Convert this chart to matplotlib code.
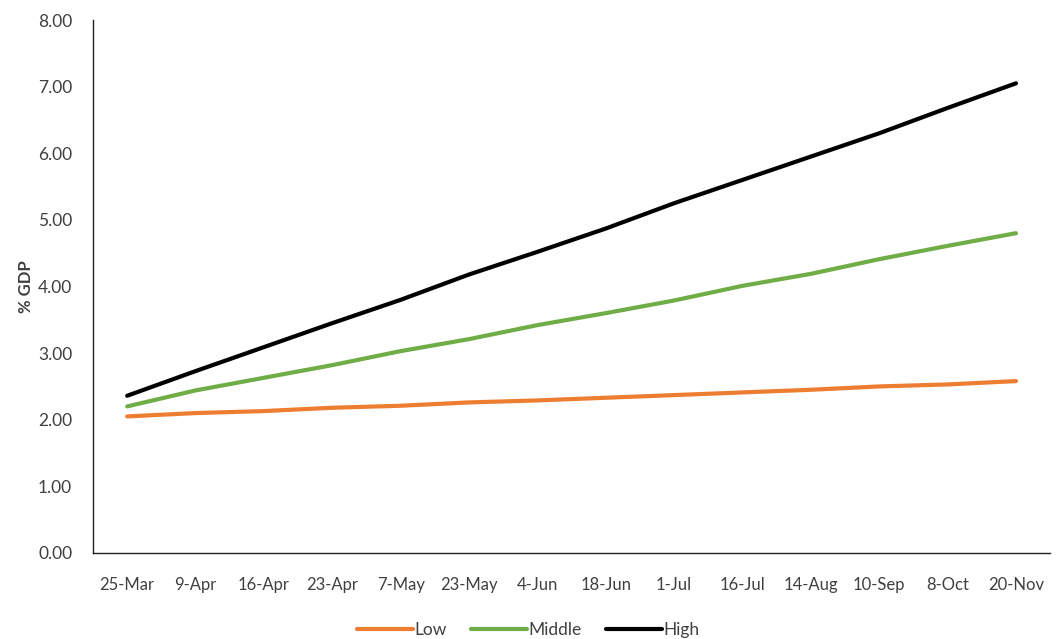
import numpy as np
import matplotlib.pyplot as plt

plt.rcParams['font.family'] = ['Lato', 'DejaVu Sans']

dates = ['25-Mar', '9-Apr', '16-Apr', '23-Apr', '7-May', '23-May', '4-Jun',
         '18-Jun', '1-Jul', '16-Jul', '14-Aug', '10-Sep', '8-Oct', '20-Nov']
low = [2.05, 2.10, 2.13, 2.18, 2.21, 2.26, 2.29, 2.33, 2.37, 2.41, 2.45, 2.50, 2.53, 2.58]
middle = [2.20, 2.44, 2.63, 2.82, 3.03, 3.21, 3.42, 3.60, 3.79, 4.01, 4.19, 4.41, 4.61, 4.80]
high = [2.36, 2.73, 3.09, 3.45, 3.80, 4.18, 4.52, 4.87, 5.25, 5.60, 5.95, 6.30, 6.68, 7.05]

fig = plt.figure(figsize=(10.64, 6.39), dpi=100)
ax = fig.add_axes([0.0874, 0.1346, 0.8996, 0.8341])

x = np.arange(len(dates))
ax.plot(x, low, color='#ED7D31', lw=3, label='Low', solid_capstyle='round')
ax.plot(x, middle, color='#70AD47', lw=3, label='Middle', solid_capstyle='round')
ax.plot(x, high, color='#000000', lw=3, label='High', solid_capstyle='round')

ax.set_xlim(-0.5, len(dates) - 0.5)
ax.set_ylim(0, 8)
ax.set_yticks(np.arange(0, 9, 1))
ax.set_yticklabels(['%.2f' % v for v in np.arange(0, 9, 1)])
ax.set_xticks(x)
ax.set_xticklabels(dates)
ax.tick_params(axis='y', length=0, labelsize=12.5, colors='#404040', pad=15)
ax.tick_params(axis='x', length=0, labelsize=12, colors='#404040', pad=17)

for s in ['top', 'right']:
    ax.spines[s].set_visible(False)
for s in ['left', 'bottom']:
    ax.spines[s].set_color('#202020')
    ax.spines[s].set_linewidth(1)

ax.set_ylabel('% GDP', fontsize=12, fontweight='bold', color='#404040')
ax.yaxis.set_label_coords(-0.062, 0.5)

ax.legend(loc='upper center', bbox_to_anchor=(0.455, -0.1), ncol=3, frameon=False,
          fontsize=12.5, handlelength=3.2, handletextpad=0.1, columnspacing=1.4,
          labelcolor='#404040')

fig.savefig('out.png', dpi=100)
